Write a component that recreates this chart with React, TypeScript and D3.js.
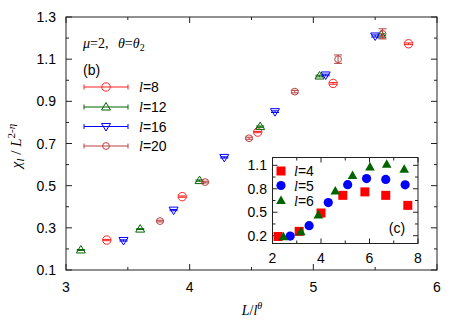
import React from "react";
import * as d3 from "d3";

const W = 463, H = 334;

// main panel data
const x8 = [3.33, 3.94, 4.55, 5.16, 5.77];
const y8 = [0.242, 0.448, 0.754, 0.985, 1.173];
const e8 = [0.003, 0.003, 0.003, 0.004, 0.004];
const x12 = [3.12, 3.6, 4.08, 4.57, 5.05, 5.55];
const y12 = [0.195, 0.294, 0.524, 0.78, 1.02, 1.215];
const e12 = [0.002, 0.002, 0.003, 0.003, 0.004, 0.005];
const x16 = [3.465, 3.87, 4.28, 4.69, 5.1, 5.5];
const y16 = [0.24, 0.384, 0.634, 0.851, 1.025, 1.21];
const e16 = [0.003, 0.003, 0.003, 0.004, 0.004, 0.005];
const x20 = [3.76, 4.125, 4.48, 4.85, 5.2, 5.56];
const y20 = [0.332, 0.517, 0.725, 0.946, 1.1, 1.22];
const e20 = [0.004, 0.004, 0.005, 0.006, 0.02, 0.024];

const mainLabels = ["l=8", "l=12", "l=16", "l=20"];
const xTicks = [3, 4, 5, 6];
const yTicks = [0.1, 0.3, 0.5, 0.7, 0.9, 1.1, 1.3];

// inset data
const ix4 = [2.23, 3.1, 4.0, 4.9, 5.81, 6.67, 7.58];
const iy4 = [0.19, 0.255, 0.49, 0.716, 0.76, 0.716, 0.588];
const ix5 = [2.73, 3.51, 4.3, 5.1, 5.88, 6.67, 7.47];
const iy5 = [0.195, 0.328, 0.623, 0.853, 0.93, 0.92, 0.85];
const ix6 = [2.45, 3.17, 3.89, 4.59, 5.3, 6.02, 6.71, 7.43];
const iy6 = [0.185, 0.25, 0.465, 0.77, 0.97, 1.08, 1.115, 1.05];
const ixTicks = [2, 4, 6, 8];
const iyTicks = [0.2, 0.5, 0.8, 1.1];

const C8 = "#ff2020", C12 = "#006400", C16 = "#0000ff", C20 = "#b84040";

const x = d3.scaleLinear().domain([3, 6]).range([66, 437]);
const y = d3.scaleLinear().domain([0.1, 1.3]).range([270, 17]);
const xi = d3.scaleLinear().domain([2, 8]).range([272.5, 418]);
const yi = d3.scaleLinear().domain([0.1, 1.2]).range([243.5, 157.5]);

const SANS = "'Liberation Sans', Arial, sans-serif";
const SERIF = "'Liberation Serif', 'Times New Roman', serif";

type Shape = "circle" | "up" | "down" | "small" | "square" | "disc" | "tri";

function Marker({ shape, cx, cy, color }: { shape: Shape; cx: number; cy: number; color: string }) {
  switch (shape) {
    case "circle":
      return <circle cx={cx} cy={cy} r={4.2} fill="none" stroke={color} strokeWidth={1} />;
    case "small":
      return <circle cx={cx} cy={cy} r={3.4} fill="none" stroke={color} strokeWidth={1} />;
    case "up":
      return <path d={`M${cx - 4.5},${cy + 3} L${cx + 4.5},${cy + 3} L${cx},${cy - 4.5} Z`} fill="none" stroke={color} strokeWidth={1} />;
    case "down":
      return <path d={`M${cx - 4.5},${cy - 3} L${cx + 4.5},${cy - 3} L${cx},${cy + 4.5} Z`} fill="none" stroke={color} strokeWidth={1} />;
    case "square":
      return <rect x={cx - 4.5} y={cy - 4.5} width={9} height={9} fill={color} />;
    case "disc":
      return <circle cx={cx} cy={cy} r={4.6} fill={color} />;
    case "tri":
      return <path d={`M${cx - 4.8},${cy + 3.5} L${cx + 4.8},${cy + 3.5} L${cx},${cy - 5} Z`} fill={color} />;
  }
  return null;
}

function ErrSeries({ xs, ys, es, color, shape }: { xs: number[]; ys: number[]; es: number[]; color: string; shape: Shape }) {
  return (
    <g>
      {xs.map((xv, i) => {
        const px = x(xv);
        const py = y(ys[i]);
        const t = y(ys[i] + es[i]);
        const b = y(ys[i] - es[i]);
        return (
          <g key={i}>
            <line x1={px} x2={px} y1={t} y2={b} stroke={color} strokeWidth={1} />
            <line x1={px - 4} x2={px + 4} y1={t} y2={t} stroke={color} strokeWidth={1} />
            <line x1={px - 4} x2={px + 4} y1={b} y2={b} stroke={color} strokeWidth={1} />
            <Marker shape={shape} cx={px} cy={py} color={color} />
          </g>
        );
      })}
    </g>
  );
}

export default function App() {
  const [x0, x1] = x.range();
  const [y0, y1] = y.range();
  const xMinor = d3.range(3.5, 6, 1);
  const yMinor = d3.range(0.2, 1.25, 0.2);
  const [ix0, ix1] = xi.range();
  const [iy0, iy1] = yi.range();
  const ixMinor = [3, 5, 7];
  const iyMinor = [0.35, 0.65, 0.95];
  const frame = "#222";
  const legendSeries = [
    { c: C8, s: "circle" as Shape },
    { c: C12, s: "up" as Shape },
    { c: C16, s: "down" as Shape },
    { c: C20, s: "small" as Shape },
  ];
  const legendY = [87, 107, 126.5, 146];
  const insetSeries = [
    { c: "#ff0000", s: "square" as Shape, lab: "4" },
    { c: "#0000ff", s: "disc" as Shape, lab: "5" },
    { c: C12, s: "tri" as Shape, lab: "6" },
  ];
  const insetLegY = [171, 185.5, 200.5];

  return (
    <svg width={W} height={H} style={{ position: "absolute", left: 0, top: 0, background: "#fff" }}>
      {/* main frame */}
      <rect x={x0} y={y1} width={x1 - x0} height={y0 - y1} fill="none" stroke={frame} strokeWidth={1} />
      {xTicks.map((t) => (
        <g key={"xt" + t}>
          <line x1={x(t)} x2={x(t)} y1={y0} y2={y0 - 6} stroke={frame} />
          <line x1={x(t)} x2={x(t)} y1={y1} y2={y1 + 6} stroke={frame} />
          <text x={x(t)} y={292} textAnchor="middle" fontFamily={SANS} fontSize={14}>{t}</text>
        </g>
      ))}
      {xMinor.map((t) => (
        <g key={"xm" + t}>
          <line x1={x(t)} x2={x(t)} y1={y0} y2={y0 - 3} stroke={frame} />
          <line x1={x(t)} x2={x(t)} y1={y1} y2={y1 + 3} stroke={frame} />
        </g>
      ))}
      {yTicks.map((t) => (
        <g key={"yt" + t}>
          <line x1={x0} x2={x0 + 6} y1={y(t)} y2={y(t)} stroke={frame} />
          <line x1={x1} x2={x1 - 6} y1={y(t)} y2={y(t)} stroke={frame} />
          <text x={56} y={y(t) + 5} textAnchor="end" fontFamily={SANS} fontSize={14}>{t.toFixed(1)}</text>
        </g>
      ))}
      {yMinor.map((t) => (
        <g key={"ym" + t}>
          <line x1={x0} x2={x0 + 3} y1={y(t)} y2={y(t)} stroke={frame} />
          <line x1={x1} x2={x1 - 3} y1={y(t)} y2={y(t)} stroke={frame} />
        </g>
      ))}

      {/* axis labels */}
      <text x={252} y={315} textAnchor="middle" fontFamily={SERIF} fontSize={14}>
        <tspan fontStyle="italic">L</tspan>/<tspan fontStyle="italic">l</tspan>
        <tspan fontStyle="italic" fontSize={10} dy={-6}>θ</tspan>
      </text>
      <text transform="translate(21,146) rotate(-90)" textAnchor="middle" fontFamily={SERIF} fontSize={15}>
        <tspan fontStyle="italic">χ</tspan>
        <tspan fontStyle="italic" fontSize={11} dy={3}>l</tspan>
        <tspan dy={-3}> / </tspan>
        <tspan fontStyle="italic">L</tspan>
        <tspan fontSize={11} dy={-6}>2-</tspan>
        <tspan fontStyle="italic" fontSize={11}>η</tspan>
      </text>

      {/* annotations */}
      <text x={83} y={48} fontFamily={SERIF} fontSize={14}>
        <tspan fontStyle="italic">μ</tspan>=2,  <tspan fontStyle="italic" dx={6}>θ</tspan>=<tspan fontStyle="italic">θ</tspan>
        <tspan fontSize={10} dy={3}>2</tspan>
      </text>
      <text x={83} y={75} fontFamily={SANS} fontSize={14}>(b)</text>

      {/* legend */}
      {legendSeries.map((l, i) => (
        <g key={"lg" + i}>
          <line x1={84} x2={128} y1={legendY[i]} y2={legendY[i]} stroke={l.c} strokeWidth={1} />
          <line x1={84} x2={84} y1={legendY[i] - 2.5} y2={legendY[i] + 2.5} stroke={l.c} />
          <line x1={128} x2={128} y1={legendY[i] - 2.5} y2={legendY[i] + 2.5} stroke={l.c} />
          <Marker shape={l.s} cx={106} cy={legendY[i]} color={l.c} />
          <text x={139} y={legendY[i] + 5} fontFamily={SANS} fontSize={14}>
            <tspan fontFamily={SERIF} fontStyle="italic">{mainLabels[i].split("=")[0]}</tspan>={mainLabels[i].split("=")[1]}
          </text>
        </g>
      ))}

      {/* main data */}
      <ErrSeries xs={x8} ys={y8} es={e8} color={C8} shape="circle" />
      <ErrSeries xs={x12} ys={y12} es={e12} color={C12} shape="up" />
      <ErrSeries xs={x16} ys={y16} es={e16} color={C16} shape="down" />
      <ErrSeries xs={x20} ys={y20} es={e20} color={C20} shape="small" />

      {/* inset */}
      <rect x={ix0} y={iy1} width={ix1 - ix0} height={iy0 - iy1} fill="#fff" stroke={frame} strokeWidth={1} />
      {ixTicks.map((t) => (
        <g key={"ixt" + t}>
          <line x1={xi(t)} x2={xi(t)} y1={iy0} y2={iy0 - 5} stroke={frame} />
          <line x1={xi(t)} x2={xi(t)} y1={iy1} y2={iy1 + 5} stroke={frame} />
          <text x={xi(t)} y={263} textAnchor="middle" fontFamily={SANS} fontSize={14}>{t}</text>
        </g>
      ))}
      {ixMinor.map((t) => (
        <g key={"ixm" + t}>
          <line x1={xi(t)} x2={xi(t)} y1={iy0} y2={iy0 - 3} stroke={frame} />
          <line x1={xi(t)} x2={xi(t)} y1={iy1} y2={iy1 + 3} stroke={frame} />
        </g>
      ))}
      {iyTicks.map((t) => (
        <g key={"iyt" + t}>
          <line x1={ix0} x2={ix0 + 5} y1={yi(t)} y2={yi(t)} stroke={frame} />
          <line x1={ix1} x2={ix1 - 5} y1={yi(t)} y2={yi(t)} stroke={frame} />
          <text x={267} y={yi(t) + 5} textAnchor="end" fontFamily={SANS} fontSize={14}>{t.toFixed(1)}</text>
        </g>
      ))}
      {iyMinor.map((t) => (
        <g key={"iym" + t}>
          <line x1={ix0} x2={ix0 + 3} y1={yi(t)} y2={yi(t)} stroke={frame} />
          <line x1={ix1} x2={ix1 - 3} y1={yi(t)} y2={yi(t)} stroke={frame} />
        </g>
      ))}
      {insetSeries.map((s, i) => (
        <g key={"il" + i}>
          <Marker shape={s.s} cx={281} cy={insetLegY[i]} color={s.c} />
          <text x={294} y={insetLegY[i] + 5} fontFamily={SANS} fontSize={14}>
            <tspan fontFamily={SERIF} fontStyle="italic">l</tspan>={s.lab}
          </text>
        </g>
      ))}
      <text x={397} y={233} textAnchor="middle" fontFamily={SANS} fontSize={14}>(c)</text>
      {ix4.map((v, i) => <Marker key={"a" + i} shape="square" cx={xi(v)} cy={yi(iy4[i])} color="#ff0000" />)}
      {ix5.map((v, i) => <Marker key={"b" + i} shape="disc" cx={xi(v)} cy={yi(iy5[i])} color="#0000ff" />)}
      {ix6.map((v, i) => <Marker key={"c" + i} shape="tri" cx={xi(v)} cy={yi(iy6[i])} color={C12} />)}
    </svg>
  );
}
